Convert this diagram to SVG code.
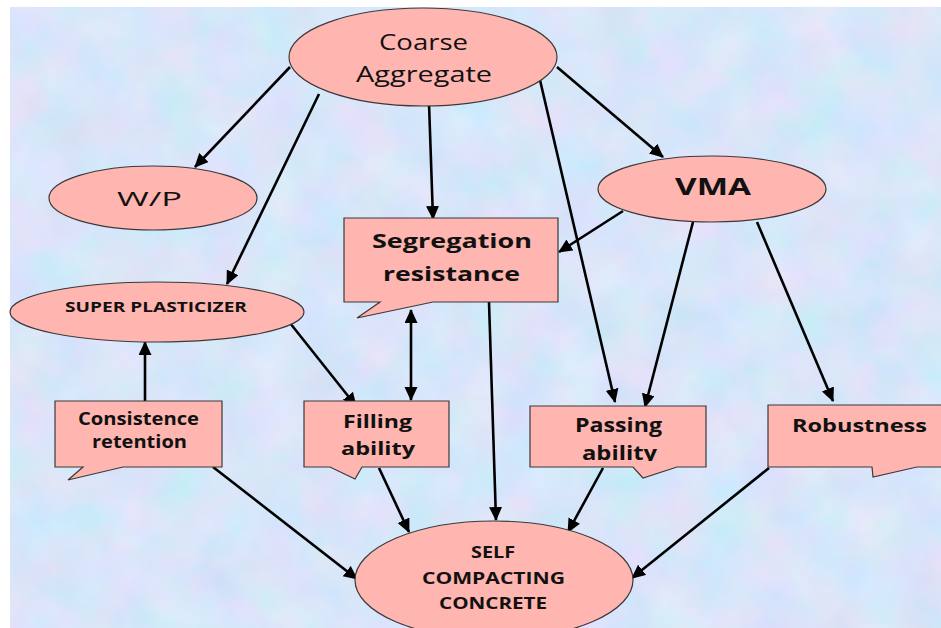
<svg xmlns="http://www.w3.org/2000/svg" width="941" height="628" viewBox="0 0 941 628">
<style>
.node{fill:#ffb5b0;stroke:#3a3a3a;stroke-width:1.2}
.t{font-family:"Open Sans","Liberation Sans",sans-serif;fill:#111;text-anchor:middle}
.b{font-weight:bold}
.c line{stroke:#000;stroke-width:2.6;marker-end:url(#ah)}
</style>
<defs>
<marker id="ah" markerUnits="userSpaceOnUse" markerWidth="16" markerHeight="14" refX="13" refY="6.5" orient="auto-start-reverse">
<path d="M0,0 L14,6.5 L0,13 z" fill="#000"/>
</marker>
<filter id="tex" x="0" y="0" width="100%" height="100%">
<feTurbulence type="fractalNoise" baseFrequency="0.02" numOctaves="4" seed="7"/>
<feColorMatrix type="matrix" values="0.3 -0.12 0 0 0.6  0 0.16 0 0 0.71  0 0 0.12 0 0.89  0 0 0 0 1"/>
</filter>
<clipPath id="pclip"><rect x="520" y="400" width="200" height="61"/></clipPath>
</defs>
<rect x="0" y="0" width="941" height="628" fill="#fff"/>
<rect x="10" y="7" width="931" height="621" fill="#c4d8f2" filter="url(#tex)"/>

<g id="connectors" class="c">
<line x1="290" y1="67" x2="195" y2="167"/>
<line x1="319" y1="94" x2="227" y2="284"/>
<line x1="429" y1="103" x2="433" y2="219"/>
<line x1="557" y1="67" x2="663" y2="157"/>
<line x1="540" y1="80" x2="615" y2="402"/>
<line x1="623" y1="211" x2="559" y2="252"/>
<line x1="693" y1="222" x2="645" y2="407"/>
<line x1="757" y1="222" x2="833" y2="401"/>
<line x1="411" y1="310" x2="411" y2="400" style="marker-start:url(#ah)"/>
<line x1="290" y1="323" x2="356" y2="406"/>
<line x1="145" y1="401" x2="145" y2="342"/>
<line x1="213" y1="467" x2="357" y2="579"/>
<line x1="379" y1="468" x2="409" y2="532"/>
<line x1="489" y1="302" x2="496" y2="520"/>
<line x1="603" y1="468" x2="568" y2="532"/>
<line x1="769" y1="468" x2="632" y2="578"/>
</g>

<g id="coarse-aggregate">
<ellipse class="node" cx="423" cy="57" rx="134" ry="49"/>
<text class="t" x="423.5" y="50" font-size="21" textLength="89" lengthAdjust="spacingAndGlyphs">Coarse</text>
<text class="t" x="424" y="82" font-size="21" textLength="136" lengthAdjust="spacingAndGlyphs">Aggregate</text>
</g>

<g id="wp">
<ellipse class="node" cx="153" cy="198" rx="104" ry="32"/>
<text class="t" x="149.5" y="206" font-size="20" textLength="65" lengthAdjust="spacingAndGlyphs">W/P</text>
</g>

<g id="super-plasticizer">
<ellipse class="node" cx="157" cy="312" rx="147" ry="30"/>
<text class="t b" x="156" y="312" font-size="14" textLength="182" lengthAdjust="spacingAndGlyphs">SUPER PLASTICIZER</text>
</g>

<g id="segregation-resistance">
<path class="node" d="M344,218 H558 V302 H433 L357,318 L380,302 H344 Z"/>
<text class="t b" x="452" y="248" font-size="19" textLength="160" lengthAdjust="spacingAndGlyphs">Segregation</text>
<text class="t b" x="451.5" y="281" font-size="19" textLength="137" lengthAdjust="spacingAndGlyphs">resistance</text>
</g>

<g id="vma">
<ellipse class="node" cx="712" cy="189" rx="114" ry="33"/>
<text class="t b" x="713" y="195" font-size="24" textLength="76" lengthAdjust="spacingAndGlyphs">VMA</text>
</g>

<g id="consistence-retention">
<path class="node" d="M55,401 H222 V467 H123 L68,480 L83,467 H55 Z"/>
<text class="t b" x="138.5" y="425" font-size="18" textLength="121" lengthAdjust="spacingAndGlyphs">Consistence</text>
<text class="t b" x="139.5" y="448" font-size="18" textLength="95" lengthAdjust="spacingAndGlyphs">retention</text>
</g>

<g id="filling-ability">
<path class="node" d="M304,401 H449 V467 H362 L355,479 L330,467 H304 Z"/>
<text class="t b" x="377.5" y="428" font-size="18.5" textLength="69" lengthAdjust="spacingAndGlyphs">Filling</text>
<text class="t b" x="378" y="455" font-size="18.5" textLength="74" lengthAdjust="spacingAndGlyphs">ability</text>
</g>

<g id="passing-ability">
<path class="node" d="M530,406 H706 V467 H677 L643,478 L633,467 H530 Z"/>
<text class="t b" x="618.5" y="432" font-size="19" textLength="87" lengthAdjust="spacingAndGlyphs">Passing</text>
<text class="t b" x="619.5" y="460" font-size="19" textLength="75" lengthAdjust="spacingAndGlyphs" clip-path="url(#pclip)">ability</text>
</g>

<g id="robustness">
<path class="node" d="M768,405 H946 V467 H917 L873,477 L872,467 H768 Z"/>
<text class="t b" x="859.5" y="432" font-size="18" textLength="135" lengthAdjust="spacingAndGlyphs">Robustness</text>
</g>

<g id="self-compacting-concrete">
<ellipse class="node" cx="494" cy="580" rx="139" ry="59"/>
<text class="t b" x="493" y="558" font-size="15.5" textLength="44" lengthAdjust="spacingAndGlyphs">SELF</text>
<text class="t b" x="493.5" y="584" font-size="15.5" textLength="143" lengthAdjust="spacingAndGlyphs">COMPACTING</text>
<text class="t b" x="493" y="609" font-size="15.5" textLength="108" lengthAdjust="spacingAndGlyphs">CONCRETE</text>
</g>
</svg>
